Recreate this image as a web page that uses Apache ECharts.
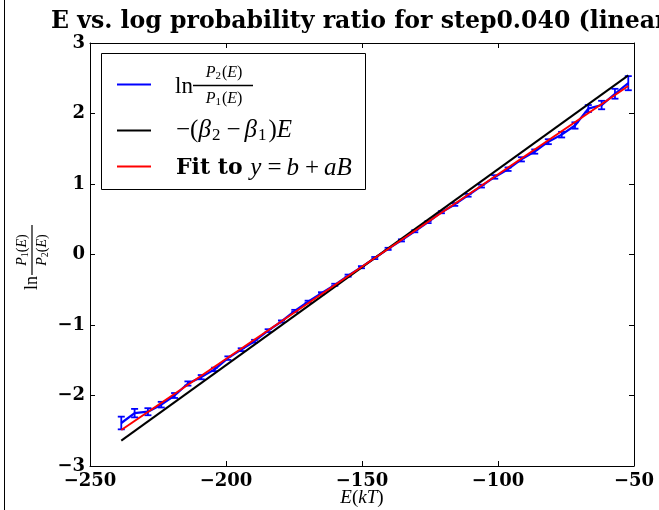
<!DOCTYPE html>
<html>
<head>
<meta charset="utf-8">
<script src="https://cdn.jsdelivr.net/npm/echarts@6/dist/echarts.min.js"></script>
<style>html,body{margin:0;padding:0;background:#fff;}#c{width:659px;height:510px;}</style>
</head>
<body>
<div id="c"></div>
<script>
// Energy bins (kT)
const energies = [-238.5,-233.6,-228.7,-223.8,-218.9,-214.0,-209.1,-204.2,-199.3,-194.4,-189.5,-184.5,-179.6,-174.7,-169.8,-164.9,-160.0,-155.1,-150.2,-145.3,-140.4,-135.5,-130.6,-125.7,-120.8,-115.9,-111.0,-106.1,-101.2,-96.3,-91.4,-86.5,-81.5,-76.6,-71.7,-66.8,-61.9,-57.0,-52.1];
// ln P2(E)/P1(E)
const logRatio = [-2.39,-2.25,-2.23,-2.13,-2.00,-1.83,-1.74,-1.63,-1.47,-1.35,-1.23,-1.08,-0.95,-0.80,-0.67,-0.55,-0.43,-0.30,-0.18,-0.05,0.08,0.20,0.33,0.46,0.60,0.71,0.84,0.97,1.10,1.21,1.35,1.46,1.60,1.70,1.83,2.07,2.12,2.28,2.43];
const logRatioErr = [0.09,0.06,0.05,0.04,0.035,0.03,0.03,0.025,0.025,0.02,0.02,0.02,0.015,0.015,0.015,0.015,0.015,0.015,0.015,0.015,0.015,0.015,0.015,0.015,0.015,0.02,0.02,0.02,0.025,0.025,0.03,0.03,0.035,0.04,0.045,0.05,0.06,0.07,0.1];
// Theory line -(beta2-beta1)E, endpoints
const theoryE = [-238.5, -52.1];
const theoryY = [-2.64, 2.54];
// Fit line y=b+aB, endpoints
const fitE = [-238.5, -52.1];
const fitY = [-2.49, 2.39];
// Ticks
const xTicks = [-250,-200,-150,-100,-50];
const yTicks = [-3,-2,-1,0,1,2,3];

const titleText = 'E vs. log probability ratio for step0.040 (linear fit)';
const tickFont = '"DejaVu Serif"';
const mathFont = '"Liberation Serif"';

const chart = echarts.init(document.getElementById('c'), null, {renderer:'canvas'});
const fmt = v => String(v).replace('-', '\u2212');

const pairs = (xs, ys) => xs.map((x,i)=>[x, ys[i]]);

const axisCommon = {
  type:'value',
  axisLine:{show:true, onZero:false, lineStyle:{color:'#000', width:1}},
  axisTick:{show:true, inside:true, length:5, lineStyle:{color:'#000', width:1}},
  splitLine:{show:false}
};

const option = {
  backgroundColor:'#fff',
  animation:false,
  grid:{left:90, right:25, top:43, bottom:44, containLabel:false},
  xAxis:[
    Object.assign({}, axisCommon, {position:'bottom', min:xTicks[0], max:xTicks[xTicks.length-1], interval:50,
      axisLabel:{show:true, formatter:fmt, color:'#000', fontFamily:tickFont, fontWeight:'bold', fontSize:18, margin:6, showMinLabel:true, showMaxLabel:true, hideOverlap:false}}),
    Object.assign({}, axisCommon, {position:'top', min:xTicks[0], max:xTicks[xTicks.length-1], interval:50, axisLabel:{show:false}})
  ],
  yAxis:[
    Object.assign({}, axisCommon, {position:'left', min:yTicks[0], max:yTicks[yTicks.length-1], interval:1,
      axisLabel:{show:true, formatter:fmt, color:'#000', fontFamily:tickFont, fontWeight:'bold', fontSize:18, margin:5, showMinLabel:true, showMaxLabel:true, hideOverlap:false}}),
    Object.assign({}, axisCommon, {position:'right', min:yTicks[0], max:yTicks[yTicks.length-1], interval:1, axisLabel:{show:false}})
  ],
  series:[
    {type:'line', data:pairs(energies, logRatio), showSymbol:false, symbol:'none', lineStyle:{color:'#0000ff', width:2.2}, z:2},
    {type:'custom', data:energies.map((e,i)=>[e, logRatio[i], logRatioErr[i]]), z:3,
      renderItem:function(params, api){
        const x = api.value(0), y = api.value(1), err = api.value(2);
        const t = api.coord([x, y+err]);
        const b = api.coord([x, y-err]);
        const hw = 3.5;
        const st = {stroke:'#0000ff', lineWidth:1.8};
        return {type:'group', children:[
          {type:'line', shape:{x1:t[0], y1:t[1], x2:b[0], y2:b[1]}, style:st},
          {type:'line', shape:{x1:t[0]-hw, y1:t[1], x2:t[0]+hw, y2:t[1]}, style:st},
          {type:'line', shape:{x1:b[0]-hw, y1:b[1], x2:b[0]+hw, y2:b[1]}, style:st}
        ]};
      }},
    {type:'line', data:pairs(theoryE, theoryY), showSymbol:false, symbol:'none', lineStyle:{color:'#000', width:2}, z:4},
    {type:'line', data:pairs(fitE, fitY), showSymbol:false, symbol:'none', lineStyle:{color:'#ff0000', width:2}, z:5}
  ],
  graphic:[
    // left figure edge
    {type:'line', shape:{x1:4.5, y1:0, x2:4.5, y2:510}, style:{stroke:'#000', lineWidth:1}},
    // title
    {type:'text', left:51, top:10, style:{text:titleText, font:'bold 23.6px "DejaVu Serif"', fill:'#000'}},
    // x axis label
    {type:'text', x:362, y:498, style:{rich:{i:{fontFamily:mathFont, fontStyle:'italic', fontSize:19}, n:{fontFamily:mathFont, fontSize:19}}, text:'{i|E}{n|(}{i|kT}{n|)}', align:'center', verticalAlign:'middle', fill:'#000'}},
    // y axis label (rotated)
    {type:'group', x:32, y:253, rotation:Math.PI/2, children:[
      {type:'text', x:-23, y:0, style:{text:'ln', font:'18px ' + mathFont, fill:'#000', align:'right', verticalAlign:'middle'}},
      {type:'line', shape:{x1:-22, y1:0, x2:28, y2:0}, style:{stroke:'#000', lineWidth:1.2}},
      {type:'text', x:3, y:-2, style:{rich:{i:{fontFamily:mathFont, fontStyle:'italic', fontSize:14}, s:{fontFamily:mathFont, fontSize:10, padding:[6,0,0,0]}, n:{fontFamily:mathFont, fontSize:14}}, text:'{i|P}{s|1}{n|(}{i|E}{n|)}', align:'center', verticalAlign:'bottom', fill:'#000'}},
      {type:'text', x:3, y:2, style:{rich:{i:{fontFamily:mathFont, fontStyle:'italic', fontSize:14}, s:{fontFamily:mathFont, fontSize:10, padding:[6,0,0,0]}, n:{fontFamily:mathFont, fontSize:14}}, text:'{i|P}{s|2}{n|(}{i|E}{n|)}', align:'center', verticalAlign:'top', fill:'#000'}}
    ]},
    // legend box
    {type:'rect', shape:{x:101.5, y:53.5, width:264, height:136}, style:{fill:'#fff', stroke:'#000', lineWidth:1}, z:100},
    {type:'line', shape:{x1:117, y1:84.5, x2:151, y2:84.5}, style:{stroke:'#0000ff', lineWidth:2}, z:101},
    {type:'line', shape:{x1:117, y1:130.5, x2:151, y2:130.5}, style:{stroke:'#000', lineWidth:2}, z:101},
    {type:'line', shape:{x1:117, y1:166.5, x2:151, y2:166.5}, style:{stroke:'#ff0000', lineWidth:2}, z:101},
    // legend entry 1
    {type:'text', x:175, y:87, z:101, style:{text:'ln', font:'23px ' + mathFont, fill:'#000', verticalAlign:'middle'}},
    {type:'line', shape:{x1:193, y1:85.5, x2:253, y2:85.5}, style:{stroke:'#000', lineWidth:1.3}, z:101},
    {type:'text', x:224, y:82, z:101, style:{rich:{i:{fontFamily:mathFont, fontStyle:'italic', fontSize:16}, s:{fontFamily:mathFont, fontSize:11, padding:[8,1,0,0]}, n:{fontFamily:mathFont, fontSize:16}}, text:'{i|P}{s|2}{n|(}{i|E}{n|)}', align:'center', verticalAlign:'bottom', fill:'#000'}},
    {type:'text', x:224, y:89, z:101, style:{rich:{i:{fontFamily:mathFont, fontStyle:'italic', fontSize:16}, s:{fontFamily:mathFont, fontSize:11, padding:[8,1,0,0]}, n:{fontFamily:mathFont, fontSize:16}}, text:'{i|P}{s|1}{n|(}{i|E}{n|)}', align:'center', verticalAlign:'top', fill:'#000'}},
    // legend entry 2
    {type:'text', x:176, y:130, z:101, style:{rich:{n:{fontFamily:mathFont, fontSize:25}, m:{fontFamily:mathFont, fontSize:25, padding:[0,4,0,4]}, i:{fontFamily:mathFont, fontStyle:'italic', fontSize:25, padding:[0,1,0,0]}, s:{fontFamily:mathFont, fontSize:17, padding:[12,2,0,0]}}, text:'{n|\u2212(}{i|\u03b2}{s|2}{m|\u2212}{i|\u03b2}{s|1}{n|)}{i|E}', verticalAlign:'middle', fill:'#000'}},
    // legend entry 3
    {type:'text', x:176, y:168, z:101, style:{rich:{b:{fontFamily:'"DejaVu Serif"', fontWeight:'bold', fontSize:22}, i:{fontFamily:mathFont, fontStyle:'italic', fontSize:25, padding:[0,1,0,0]}, m:{fontFamily:mathFont, fontSize:25, padding:[0,5,0,5]}}, text:'{b|Fit to }{i|y}{m|=}{i|b}{m|+}{i|aB}', verticalAlign:'middle', fill:'#000'}}
  ]
};
chart.setOption(option);
</script>
</body>
</html>
